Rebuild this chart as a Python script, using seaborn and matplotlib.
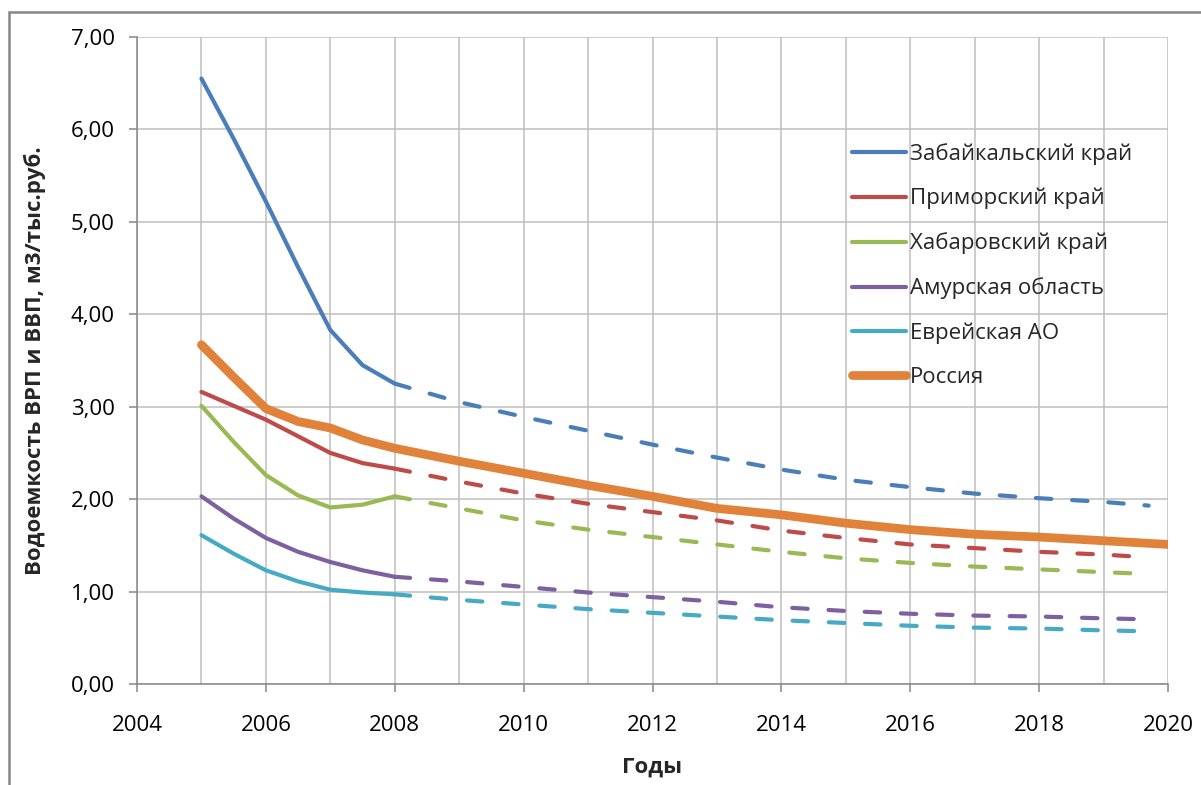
import matplotlib
matplotlib.use("Agg")
import matplotlib.pyplot as plt
from matplotlib.patches import Rectangle
from matplotlib.lines import Line2D
from matplotlib.ticker import MultipleLocator, FuncFormatter
import seaborn as sns

# фактические данные (сплошные линии)
years_fact = [2005, 2005.5, 2006, 2006.5, 2007, 2007.5, 2008]
# прогноз (пунктир)
years_fcst = [2008, 2009, 2010, 2011, 2012, 2013, 2014, 2015, 2016, 2017, 2018, 2019, 2019.7]
years_rus = [2005, 2005.5, 2006, 2006.5, 2007, 2007.5, 2008, 2009, 2010, 2011, 2012,
             2013, 2014, 2015, 2016, 2017, 2018, 2019, 2020]

zab_fact = [6.55, 5.90, 5.22, 4.51, 3.83, 3.45, 3.25]
zab_fcst = [3.25, 3.05, 2.89, 2.74, 2.59, 2.45, 2.32, 2.21, 2.13, 2.06, 2.01, 1.97, 1.93]
prim_fact = [3.16, 3.01, 2.86, 2.68, 2.50, 2.39, 2.33]
prim_fcst = [2.33, 2.19, 2.06, 1.95, 1.86, 1.77, 1.66, 1.58, 1.51, 1.47, 1.43, 1.40, 1.37]
hab_fact = [3.01, 2.62, 2.26, 2.04, 1.91, 1.94, 2.03]
hab_fcst = [2.03, 1.90, 1.77, 1.67, 1.59, 1.51, 1.43, 1.36, 1.31, 1.27, 1.24, 1.21, 1.19]
amur_fact = [2.03, 1.79, 1.58, 1.43, 1.32, 1.23, 1.16]
amur_fcst = [1.16, 1.11, 1.05, 0.99, 0.94, 0.89, 0.83, 0.79, 0.76, 0.74, 0.73, 0.71, 0.70]
evr_fact = [1.61, 1.41, 1.23, 1.11, 1.02, 0.99, 0.97]
evr_fcst = [0.97, 0.91, 0.86, 0.81, 0.77, 0.73, 0.69, 0.66, 0.63, 0.61, 0.60, 0.58, 0.57]
russia = [3.67, 3.32, 2.98, 2.84, 2.77, 2.64, 2.55, 2.41, 2.28, 2.15, 2.03,
          1.90, 1.83, 1.74, 1.67, 1.62, 1.59, 1.55, 1.51]

labels = ["Забайкальский край", "Приморский край", "Хабаровский край",
          "Амурская область", "Еврейская АО", "Россия"]
colors = ["#4A7EBB", "#BE4B48", "#98B954", "#7D60A0", "#46AAC5", "#E0823A"]

sns.set_style("white")
plt.rcParams['font.family'] = ['Open Sans', 'DejaVu Sans']

fig = plt.figure(figsize=(12.01, 7.85), dpi=100)
ax = fig.add_axes([137/1201, 1 - 684/785, (1168 - 137)/1201, (684 - 37)/785])

regions = [(zab_fact, zab_fcst), (prim_fact, prim_fcst), (hab_fact, hab_fcst),
           (amur_fact, amur_fcst), (evr_fact, evr_fcst)]
lw = 3.0
for (fact, fcst), c in zip(regions, colors):
    sns.lineplot(x=years_fact, y=fact, ax=ax, color=c, linewidth=lw,
                 solid_capstyle='round', solid_joinstyle='round')
    sns.lineplot(x=years_fcst, y=fcst, ax=ax, color=c, linewidth=lw,
                 linestyle=(0, (3.7, 5.0)), dash_capstyle='round')

sns.lineplot(x=years_rus, y=russia, ax=ax, color=colors[5], linewidth=6.3,
             solid_capstyle='round', solid_joinstyle='round')

ax.set_xlim(2004, 2020)
ax.set_ylim(0, 7)
ax.xaxis.set_major_locator(MultipleLocator(2))
ax.xaxis.set_minor_locator(MultipleLocator(1))
ax.yaxis.set_major_locator(MultipleLocator(1))
ax.yaxis.set_major_formatter(FuncFormatter(lambda v, p: f"{v:.2f}".replace(".", ",")))

grid_c = "#BEBEBE"
ax.grid(True, which='major', color=grid_c, linewidth=1.1)
ax.grid(True, which='minor', axis='x', color=grid_c, linewidth=1.1)
ax.set_axisbelow(True)
for side in ['left', 'bottom']:
    ax.spines[side].set_color("#868686")
    ax.spines[side].set_linewidth(1.1)
for side in ['top', 'right']:
    ax.spines[side].set_visible(False)

ax.tick_params(axis='both', which='major', length=6, width=1.1, color="#868686",
               direction='out', labelsize=16, labelcolor="#000000")
ax.tick_params(axis='x', which='major', pad=16, bottom=True)
ax.tick_params(axis='y', which='major', pad=10, left=True)
ax.tick_params(axis='x', which='minor', length=0)

ax.set_xlabel("Годы", fontsize=16, fontweight='bold', labelpad=15)
ax.set_ylabel("Водоемкость ВРП и ВВП, м3/тыс.руб.", fontsize=16, fontweight='bold', labelpad=18)

handles = [Line2D([], [], color=c, linewidth=lw, solid_capstyle='round') for c in colors[:5]]
handles.append(Line2D([], [], color=colors[5], linewidth=6.3, solid_capstyle='round'))
ax.legend(handles, labels, loc='upper left', bbox_to_anchor=(852/1201, 1 - 143/785),
          bbox_transform=fig.transFigure, frameon=False, fontsize=16,
          handlelength=2.45, handletextpad=0.14, labelspacing=1.04, borderpad=0,
          borderaxespad=0)

# рамка диаграммы
fig.patches.append(Rectangle((9/1201, -0.2), 1.2, 1 - 12/785 + 0.2, transform=fig.transFigure,
                             fill=False, edgecolor="#868686", linewidth=1.8, figure=fig))

fig.savefig("out.png", dpi=100)
